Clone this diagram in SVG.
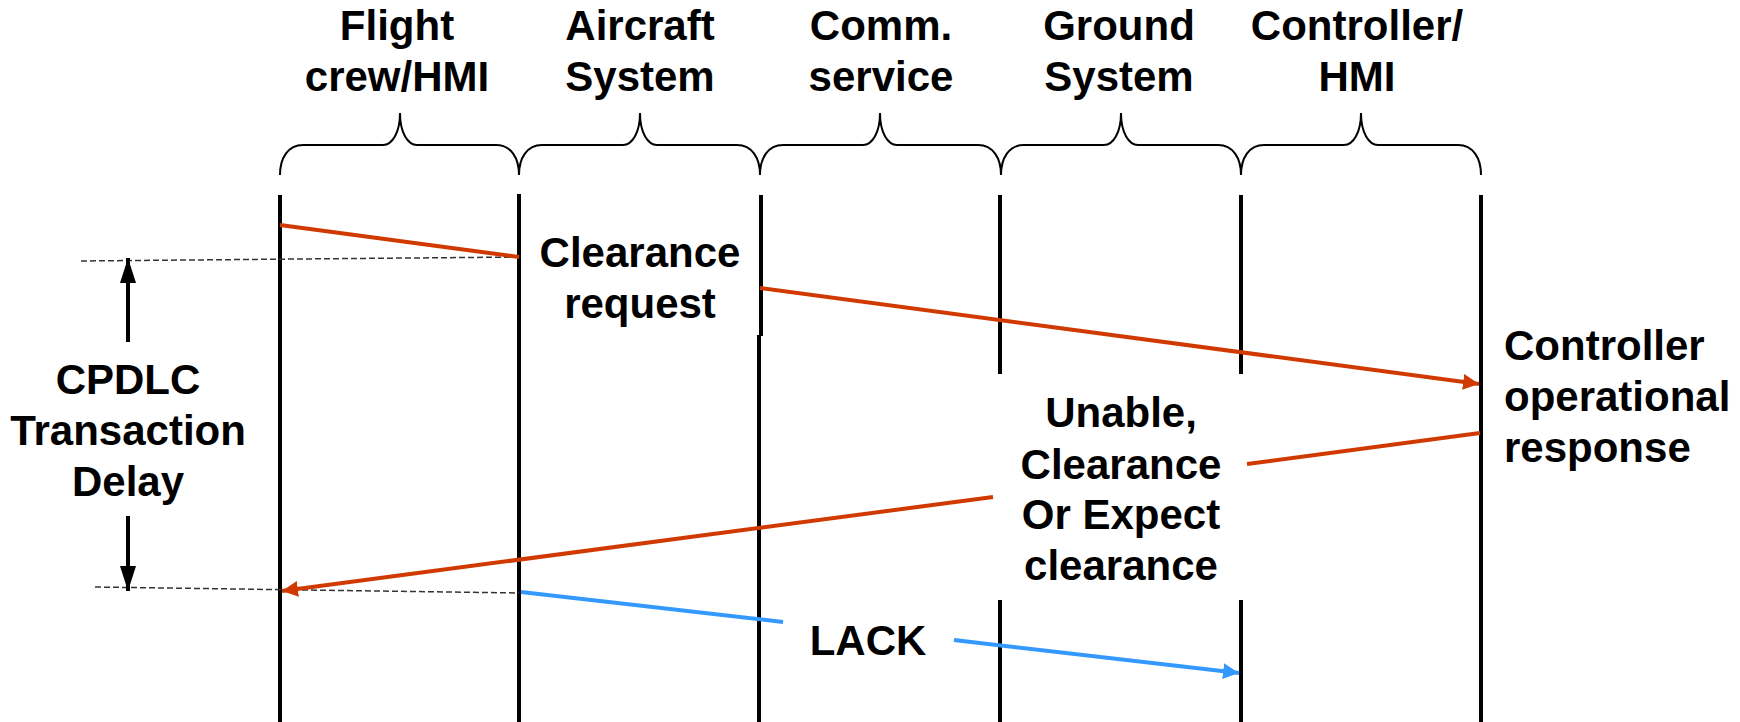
<svg xmlns="http://www.w3.org/2000/svg" width="1740" height="722" viewBox="0 0 1740 722">
<defs>
<style>
text{font-family:"Liberation Sans",Arial,sans-serif;font-weight:bold;font-size:42px;fill:#000}
.mid{text-anchor:middle}
.life{stroke:#000;stroke-width:4;fill:none}
.brace{stroke:#000;stroke-width:2;fill:none}
.red{stroke:#D03A00;stroke-width:4;fill:none}
.blue{stroke:#3399FF;stroke-width:4;fill:none}
.dash{stroke:#333;stroke-width:1.5;stroke-dasharray:6 3;fill:none}
.dim{stroke:#000;stroke-width:4;fill:none}
</style>
<marker id="ar" markerUnits="userSpaceOnUse" markerWidth="18" markerHeight="18" refX="16" refY="8" orient="auto"><path d="M0,0 L16,8 L0,16 Z" fill="#D03A00"/></marker>
<marker id="ab" markerUnits="userSpaceOnUse" markerWidth="18" markerHeight="18" refX="16" refY="8" orient="auto"><path d="M0,0 L16,8 L0,16 Z" fill="#3399FF"/></marker>
<marker id="ak" markerUnits="userSpaceOnUse" markerWidth="26" markerHeight="18" refX="25" refY="8" orient="auto"><path d="M0,0 L25,8 L0,16 Z" fill="#000"/></marker>
</defs>
<rect width="1740" height="722" fill="#fff"/>

<g id="flight-crew">
<text class="mid" x="397" y="40">Flight</text>
<text class="mid" x="397" y="91">crew/HMI</text>
<path class="brace" d="M280,175 C280,158 288,145 303,145 L383,145 C392,145 400,133 400,113 C400,133 408,145 417,145 L496,145 C511,145 519,158 519,175"/>
<line class="life" x1="280" y1="195" x2="280" y2="722"/>
</g>
<g id="aircraft-system">
<text class="mid" x="640" y="40">Aircraft</text>
<text class="mid" x="640" y="91">System</text>
<path class="brace" d="M519,175 C519,158 527,145 542,145 L623,145 C632,145 640,133 640,113 C640,133 648,145 657,145 L737,145 C752,145 760,158 760,175"/>
<line class="life" x1="519" y1="194" x2="519" y2="722"/>
</g>
<g id="comm-service">
<text class="mid" x="881" y="40">Comm.</text>
<text class="mid" x="881" y="91">service</text>
<path class="brace" d="M760,175 C760,158 768,145 783,145 L863,145 C872,145 880,133 880,113 C880,133 888,145 897,145 L978,145 C993,145 1001,158 1001,175"/>
<line class="life" x1="761" y1="195" x2="761" y2="336"/>
<line class="life" x1="759" y1="335" x2="759" y2="722"/>
</g>
<g id="ground-system">
<text class="mid" x="1119" y="40">Ground</text>
<text class="mid" x="1119" y="91">System</text>
<path class="brace" d="M1001,175 C1001,158 1009,145 1024,145 L1104,145 C1113,145 1121,133 1121,113 C1121,133 1129,145 1138,145 L1218,145 C1233,145 1241,158 1241,175"/>
<line class="life" x1="1000" y1="195" x2="1000" y2="374"/>
<line class="life" x1="1000" y1="600" x2="1000" y2="722"/>
</g>
<g id="controller-hmi">
<text class="mid" x="1357" y="40">Controller/</text>
<text class="mid" x="1357" y="91">HMI</text>
<path class="brace" d="M1241,175 C1241,158 1249,145 1264,145 L1344,145 C1353,145 1361,133 1361,113 C1361,133 1369,145 1378,145 L1458,145 C1473,145 1481,158 1481,175"/>
<line class="life" x1="1241" y1="195" x2="1241" y2="374"/>
<line class="life" x1="1241" y1="600" x2="1241" y2="722"/>
<line class="life" x1="1481" y1="195" x2="1481" y2="722"/>
</g>

<g id="label-clearance-request">
<text class="mid" x="640" y="267">Clearance</text>
<text class="mid" x="640" y="318">request</text>
</g>
<g id="label-controller-response">
<text x="1504" y="360">Controller</text>
<text x="1504" y="411">operational</text>
<text x="1504" y="462">response</text>
</g>
<g id="label-unable">
<text class="mid" x="1121" y="427">Unable,</text>
<text class="mid" x="1121" y="479">Clearance</text>
<text class="mid" x="1121" y="529">Or Expect</text>
<text class="mid" x="1121" y="580">clearance</text>
</g>
<g id="label-lack">
<text class="mid" x="868" y="655">LACK</text>
</g>
<g id="delay">
<text class="mid" x="128" y="394">CPDLC</text>
<text class="mid" x="128" y="445">Transaction</text>
<text class="mid" x="128" y="496">Delay</text>
</g>

<g id="connectors">
<line class="dash" x1="81" y1="261" x2="519" y2="257"/>
<line class="dash" x1="95" y1="587" x2="519" y2="593"/>
<line class="dim" x1="128" y1="342" x2="128" y2="258" marker-end="url(#ak)"/>
<line class="dim" x1="128" y1="516" x2="128" y2="591" marker-end="url(#ak)"/>
<line class="red" x1="280" y1="225" x2="519" y2="257"/>
<line class="red" x1="760" y1="288" x2="1479" y2="384" marker-end="url(#ar)"/>
<line class="red" x1="1480" y1="433" x2="1247" y2="464"/>
<line class="red" x1="993" y1="497" x2="282" y2="591" marker-end="url(#ar)"/>
<line class="blue" x1="521" y1="592" x2="783" y2="622"/>
<line class="blue" x1="954" y1="640" x2="1239" y2="673" marker-end="url(#ab)"/>
</g>
</svg>
